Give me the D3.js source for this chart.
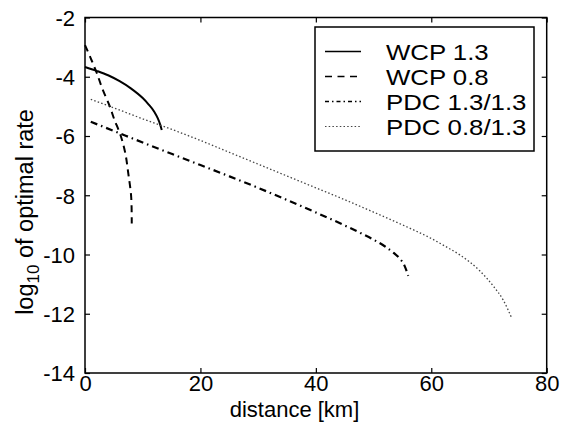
<!DOCTYPE html>
<html><head><meta charset="utf-8">
<script src="https://cdn.jsdelivr.net/npm/d3@7"></script>
<style>body{margin:0;background:#fff}svg{display:block}text{font-family:"Liberation Sans",Arial,Helvetica,sans-serif;fill:#000}</style>
</head><body>
<svg id="c" width="561" height="422"></svg>
<script>
const xTicks = [0, 20, 40, 60, 80];
const yTicks = [-2, -4, -6, -8, -10, -12, -14];
const seriesNames = ["WCP 1.3", "WCP 0.8", "PDC 1.3/1.3", "PDC 0.8/1.3"];
const wcp13X = [0, 2, 4, 6, 8, 10, 11, 12, 12.6, 13, 13.3];
const wcp13Y = [-3.67, -3.8, -3.95, -4.15, -4.4, -4.72, -4.93, -5.18, -5.4, -5.6, -5.8];
const wcp08X = [0, 1, 2, 3, 4.3, 5, 6.2, 7, 7.5, 8.0, 8.1];
const wcp08Y = [-2.93, -3.38, -3.85, -4.4, -5.0, -5.4, -6.0, -6.6, -7.26, -8.05, -8.95];
const pdc1313X = [1, 5, 10, 15, 20, 25, 30, 34.4, 40, 45, 48.2, 50, 52, 53.4, 54.5, 55.3, 56];
const pdc1313Y = [-5.52, -5.83, -6.22, -6.6, -6.98, -7.36, -7.75, -8.11, -8.58, -9.02, -9.32, -9.5, -9.73, -9.93, -10.13, -10.35, -10.72];
const pdc0813X = [1, 5, 10, 13, 20, 25, 30, 35, 40, 45, 50, 55, 60, 62.4, 65, 68.4, 70.8, 72.5, 73.9];
const pdc0813Y = [-4.76, -5.05, -5.42, -5.63, -6.15, -6.55, -6.95, -7.35, -7.75, -8.15, -8.57, -9.0, -9.46, -9.72, -10.02, -10.55, -11.08, -11.55, -12.13];

const svg = d3.select("#c");
const L = 85, R = 546.7, T = 17.5, B = 373;
const x = d3.scaleLinear().domain([0, 80]).range([L, R]);
const y = d3.scaleLinear().domain([-14, -2]).range([B, T]);

const styles = [
  {stroke: "#000", width: 2, dash: null},
  {stroke: "#000", width: 2, dash: "7,5"},
  {stroke: "#000", width: 2.2, dash: "7,4,1.5,4"},
  {stroke: "#444", width: 1.3, dash: "1.5,2.2"}
];
const series = [
  d3.zip(wcp13X, wcp13Y), d3.zip(wcp08X, wcp08Y),
  d3.zip(pdc1313X, pdc1313Y), d3.zip(pdc0813X, pdc0813Y)
];

const line = d3.line().x(d => x(d[0])).y(d => y(d[1])).curve(d3.curveMonotoneX);
series.forEach((s, i) => {
  const st = styles[i];
  const ln = i === 1 ? d3.line().x(d => x(d[0])).y(d => y(d[1])).curve(d3.curveCatmullRom) : line;
  svg.append("path").attr("d", ln(s)).attr("fill", "none")
    .attr("stroke", st.stroke).attr("stroke-width", st.width)
    .attr("stroke-dasharray", st.dash);
});

// frame
svg.append("rect").attr("x", L).attr("y", T).attr("width", R - L).attr("height", B - T)
  .attr("fill", "none").attr("stroke", "#000").attr("stroke-width", 1.5);

// axes with inward ticks
const tk = 5;
const gB = svg.append("g").attr("transform", `translate(0,${B})`)
  .call(d3.axisBottom(x).tickValues(xTicks).tickSize(-tk).tickPadding(4).tickFormat(d3.format("d")));
const gT = svg.append("g").attr("transform", `translate(0,${T})`)
  .call(d3.axisTop(x).tickValues(xTicks).tickSize(-tk).tickFormat(""));
const gL = svg.append("g").attr("transform", `translate(${L},0)`)
  .call(d3.axisLeft(y).tickValues(yTicks).tickSize(-tk).tickPadding(10).tickFormat(d => d3.format("d")(d).replace("−", "-")));
const gR = svg.append("g").attr("transform", `translate(${R},0)`)
  .call(d3.axisRight(y).tickValues(yTicks).tickSize(-tk).tickFormat(""));
[gB, gT, gL, gR].forEach(g => {
  g.select(".domain").remove();
  g.selectAll(".tick line").attr("stroke", "#000").attr("stroke-width", 1.2);
  g.selectAll("text").attr("font-size", 22).attr("font-family", '"Liberation Sans",Arial,sans-serif').attr("fill", "#000");
});
gB.selectAll("text").attr("dy", "0.75em").attr("y", 1);
gL.selectAll("text").attr("dy", "0.36em");

// axis labels
svg.append("text").attr("x", 294.5).attr("y", 417).attr("text-anchor", "middle")
  .attr("font-size", 22).text("distance [km]");
const yl = svg.append("text").attr("transform", "translate(33,212) rotate(-90)")
  .attr("text-anchor", "middle").attr("font-size", 23.5);
yl.append("tspan").text("log");
yl.append("tspan").attr("font-size", 17).attr("dy", 6).text("10");
yl.append("tspan").attr("dy", -6).text(" of optimal rate");

// legend
const lg = svg.append("g");
lg.append("rect").attr("x", 315).attr("y", 27).attr("width", 219).attr("height", 124)
  .attr("fill", "#fff").attr("stroke", "#000").attr("stroke-width", 1.5);
seriesNames.forEach((n, i) => {
  const by = 60 + i * 25;
  const st = styles[i];
  lg.append("line").attr("x1", 325).attr("x2", 361).attr("y1", by - 8.5).attr("y2", by - 8.5)
    .attr("stroke", st.stroke).attr("stroke-width", i === 3 ? 1.1 : 1.6).attr("stroke-dasharray", i === 1 ? "7,5.5" : (i === 2 ? "4,3,1.5,3" : st.dash));
  lg.append("text").attr("transform", `translate(386,${by}) scale(1.2,1)`).attr("font-size", 21.5).text(n);
});
</script>
</body></html>
